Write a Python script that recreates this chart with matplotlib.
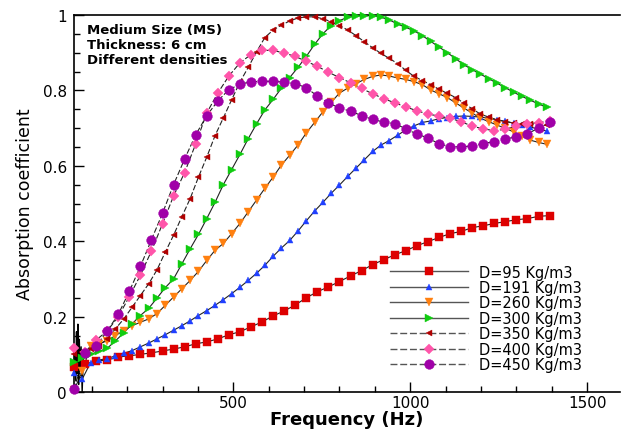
import numpy as np
import matplotlib.pyplot as plt
from matplotlib.lines import Line2D

# symbol frequencies (Hz): two sampling grids
f_coarse = 50 + 31.25 * np.arange(44)
f_fine = 50 + 23.4375 * np.arange(58)

d95 = [0.066, 0.075, 0.082, 0.085, 0.093, 0.096, 0.100, 0.104, 0.109, 0.114,
       0.120, 0.128, 0.133, 0.141, 0.152, 0.160, 0.173, 0.186, 0.202, 0.215,
       0.231, 0.250, 0.266, 0.279, 0.293, 0.308, 0.322, 0.338, 0.351, 0.364,
       0.375, 0.388, 0.399, 0.410, 0.420, 0.426, 0.436, 0.441, 0.447, 0.452,
       0.457, 0.460, 0.466, 0.468]
d191 = [0.050, 0.035, 0.078, 0.085, 0.089, 0.096, 0.103, 0.110, 0.120, 0.130,
        0.141, 0.152, 0.164, 0.176, 0.189, 0.203, 0.216, 0.230, 0.245, 0.261,
        0.278, 0.296, 0.315, 0.336, 0.360, 0.382, 0.402, 0.427, 0.454, 0.480,
        0.503, 0.527, 0.549, 0.572, 0.594, 0.616, 0.638, 0.655, 0.667, 0.681,
        0.695, 0.706, 0.715, 0.719, 0.725, 0.728, 0.731, 0.732, 0.731, 0.729,
        0.726, 0.722, 0.718, 0.713, 0.708, 0.703, 0.697, 0.692]
d260 = [0.005, 0.055, 0.123, 0.128, 0.136, 0.150, 0.163, 0.176, 0.185, 0.194,
        0.208, 0.230, 0.252, 0.274, 0.296, 0.320, 0.349, 0.376, 0.394, 0.420,
        0.447, 0.478, 0.509, 0.540, 0.570, 0.602, 0.628, 0.655, 0.687, 0.715,
        0.743, 0.768, 0.793, 0.806, 0.818, 0.829, 0.837, 0.841, 0.838, 0.833,
        0.829, 0.823, 0.815, 0.801, 0.791, 0.781, 0.767, 0.753, 0.740, 0.726,
        0.717, 0.708, 0.699, 0.690, 0.679, 0.668, 0.662, 0.657]
d300 = [0.080, 0.090, 0.100, 0.108, 0.116, 0.136, 0.157, 0.181, 0.203, 0.222,
        0.249, 0.277, 0.300, 0.340, 0.380, 0.418, 0.460, 0.503, 0.550, 0.590,
        0.630, 0.672, 0.711, 0.748, 0.776, 0.806, 0.834, 0.861, 0.890, 0.922,
        0.950, 0.972, 0.985, 0.994, 0.997, 0.998, 0.998, 0.994, 0.987, 0.976,
        0.967, 0.958, 0.945, 0.930, 0.915, 0.900, 0.884, 0.868, 0.855, 0.843,
        0.831, 0.819, 0.807, 0.795, 0.784, 0.774, 0.764, 0.755]
d350 = [0.100, 0.105, 0.113, 0.123, 0.141, 0.168, 0.194, 0.225, 0.256, 0.287,
        0.324, 0.371, 0.416, 0.465, 0.513, 0.570, 0.623, 0.680, 0.727, 0.775,
        0.822, 0.861, 0.902, 0.940, 0.960, 0.973, 0.984, 0.992, 0.995, 0.995,
        0.990, 0.982, 0.972, 0.960, 0.945, 0.929, 0.913, 0.898, 0.885, 0.871,
        0.853, 0.837, 0.826, 0.815, 0.803, 0.792, 0.781, 0.766, 0.751, 0.737,
        0.729, 0.722, 0.717, 0.714, 0.712, 0.710, 0.708, 0.707]
d400 = [0.118, 0.106, 0.138, 0.162, 0.200, 0.253, 0.310, 0.374, 0.446, 0.520,
        0.582, 0.658, 0.740, 0.793, 0.838, 0.873, 0.895, 0.906, 0.906, 0.899,
        0.890, 0.877, 0.864, 0.848, 0.834, 0.820, 0.805, 0.791, 0.778, 0.767,
        0.756, 0.746, 0.737, 0.732, 0.726, 0.717, 0.705, 0.698, 0.693, 0.697,
        0.705, 0.712, 0.714, 0.720]
d450 = [0.008, 0.104, 0.122, 0.162, 0.206, 0.267, 0.333, 0.404, 0.474, 0.550,
        0.618, 0.682, 0.733, 0.772, 0.802, 0.816, 0.823, 0.824, 0.824, 0.822,
        0.818, 0.807, 0.785, 0.767, 0.753, 0.745, 0.733, 0.723, 0.716, 0.712,
        0.698, 0.684, 0.674, 0.658, 0.651, 0.650, 0.653, 0.659, 0.664, 0.671,
        0.677, 0.685, 0.700, 0.715]

# low-frequency measurement noise (line only)
noise_f = [52, 55, 57, 59, 61, 63, 65, 67, 70, 73, 76, 79]
noise_a = [0.10, 0.03, 0.16, 0.05, 0.18, 0.02, 0.14, 0.06, 0.12, 0.00, 0.09, 0.07]

labels = ['D=95 Kg/m3', 'D=191 Kg/m3', 'D=260 Kg/m3', 'D=300 Kg/m3',
          'D=350 Kg/m3', 'D=400 Kg/m3', 'D=450 Kg/m3']

series = [
    (f_coarse, d95, 's', 6, '#dd0000', '-'),
    (f_fine, d191, '^', 4.5, '#2040ff', '-'),
    (f_fine, d260, 'v', 5.5, '#ff8010', '-'),
    (f_fine, d300, '>', 5.5, '#10cc10', '-'),
    (f_fine, d350, '<', 4.5, '#b00000', (0, (5, 2))),
    (f_coarse, d400, 'D', 5.5, '#ff55aa', (0, (5, 2))),
    (f_coarse, d450, 'o', 7, '#a000a8', (0, (5, 2))),
]

fig = plt.figure(figsize=(6.22, 4.31), dpi=100)
ax = fig.add_axes([0.119, 0.088, 0.878, 0.875])

ax.plot(noise_f, noise_a, color='k', lw=1.0, zorder=3)

handles = []
for (f, d, m, ms, c, ls), lab in zip(series, labels):
    ax.plot(f, d, color='#222222', lw=0.8, linestyle=ls, zorder=2)
    ax.plot(f, d, linestyle='none', marker=m, ms=ms, color=c, mec=c, mew=0.3,
            zorder=4, clip_on=False)
    handles.append(Line2D([], [], color='#555555', lw=1.0, linestyle=ls,
                          marker=m, ms=ms, mfc=c, mec=c, mew=0.3))

ax.set_xlim(50, 1593)
ax.set_ylim(0, 1)
ax.set_xticks([500, 1000, 1500])
ax.set_xticks(np.arange(100, 1600, 100), minor=True)
ax.set_yticks([0, 0.2, 0.4, 0.6, 0.8, 1])
ax.set_yticklabels(['0', '0.2', '0.4', '0.6', '0.8', '1'])
ax.set_yticks(np.arange(0, 1.0001, 0.05), minor=True)
ax.tick_params(which='both', direction='in', top=False, right=False,
               labelsize=11, width=1.0)
ax.tick_params(axis='y', which='major', length=7, pad=5)
ax.tick_params(axis='y', which='minor', length=4)
ax.tick_params(axis='x', which='major', length=7, pad=2)
ax.tick_params(axis='x', which='minor', length=4)
ax.spines['right'].set_visible(False)
for s in ['left', 'bottom', 'top']:
    ax.spines[s].set_linewidth(1.2)

ax.set_xlabel('Frequency (Hz)', fontsize=13, fontweight='bold', labelpad=0)
ax.set_ylabel('Absorption coefficient', fontsize=12.5, labelpad=6)

ax.text(0.024, 0.978, 'Medium Size (MS)\nThickness: 6 cm\nDifferent densities',
        transform=ax.transAxes, va='top', ha='left', fontsize=9.5,
        fontweight='bold', linespacing=1.2)

ax.legend(handles, labels, loc='upper left', bbox_to_anchor=(0.578, 0.338),
          frameon=False, fontsize=10.5, handlelength=5.4, handletextpad=0.75,
          labelspacing=0.03, borderpad=0, borderaxespad=0, numpoints=1)

fig.savefig('out.png', dpi=100)
